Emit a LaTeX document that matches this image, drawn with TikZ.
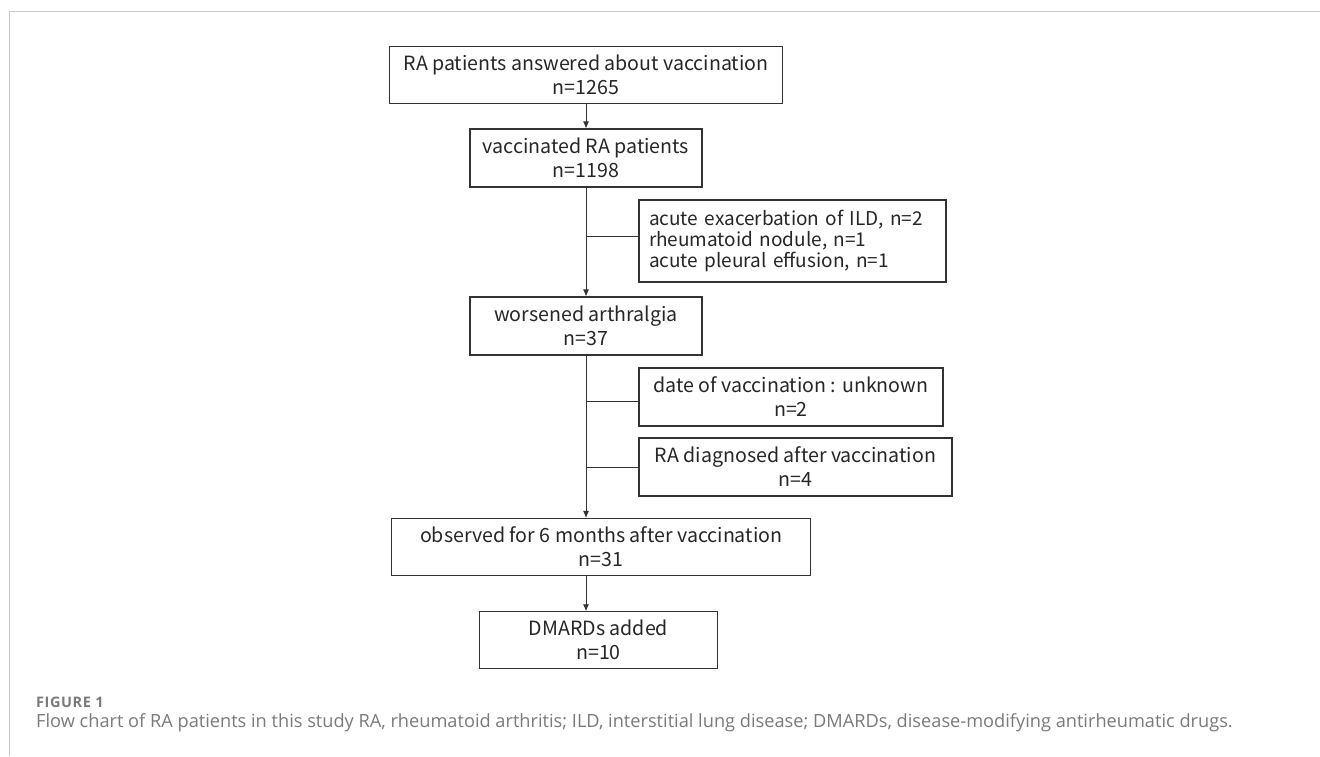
\documentclass[tikz,border=0pt]{standalone}
\usepackage{fontspec}
\setmainfont{Noto Sans CJK JP}
\newfontfamily\capfont{Open Sans}
\newfontfamily\caplabelfont[LetterSpace=4]{Open Sans}
\usetikzlibrary{arrows.meta}
\definecolor{boxline}{HTML}{333333}
\definecolor{frameline}{HTML}{C8C8C8}
\definecolor{captext}{HTML}{7A7A7A}
\tikzset{
	stepbox/.style={draw=boxline,line width=1.1pt,align=center,inner sep=0pt,text=black!85,font=\fontsize{19.6}{24}\selectfont},
	sidebox/.style={stepbox,align=left,inner xsep=10pt,font=\fontsize{19}{21}\selectfont},
	flow/.style={draw=boxline,line width=0.9pt},
	flowarrow/.style={flow,-{Latex[length=7pt,width=6pt]}}
}
\begin{document}
\begin{tikzpicture}[x=1pt,y=-1pt]
	\useasboundingbox (0,0) rectangle (1320,756);
	\draw[frameline,line width=1pt] (9,756) -- (9,11) -- (1320,11);
	\node[stepbox,minimum width=393pt,minimum height=57pt] (ans) at (586,75.3) {RA patients answered about vaccination\\n=1265};
	\node[stepbox,minimum width=232pt,minimum height=58pt] (vac) at (586,158) {vaccinated RA patients\\n=1198};
	\node[sidebox,text width=287pt,minimum height=82pt] (ild) at (792.5,241) {acute exacerbation of ILD, n=2\\rheumatoid nodule, n=1\\acute pleural effusion, n=1};
	\node[stepbox,minimum width=232pt,minimum height=58pt] (wor) at (586,326) {worsened arthralgia\\n=37};
	\node[stepbox,minimum width=304pt,minimum height=58pt] (unk) at (791,397) {date of vaccination : unknown\\n=2};
	\node[stepbox,minimum width=313pt,minimum height=58pt] (dia) at (795.5,467) {RA diagnosed after vaccination\\n=4};
	\node[stepbox,minimum width=419pt,minimum height=57pt] (obs) at (601.2,547) {observed for 6 months after vaccination\\n=31};
	\node[stepbox,minimum width=238pt,minimum height=57pt] (dma) at (598.5,640.3) {DMARDs added\\n=10};
	\coordinate (b1) at (586,236);
	\coordinate (b2) at (586,401);
	\coordinate (b3) at (586,467);
	\draw[flowarrow] (ans) -- (vac);
	\draw[flowarrow] (vac) -- (wor);
	\draw[flowarrow] (wor) -- (obs.north -| wor.south);
	\draw[flowarrow] (obs.south -| wor.south) -- (dma.north -| wor.south);
	\draw[flow] (b1) -- (b1 -| ild.west);
	\draw[flow] (b2) -- (b2 -| unk.west);
	\draw[flow] (b3) -- (b3 -| dia.west);
	\node[anchor=base west,inner sep=0pt,text=captext,font=\caplabelfont\bfseries\fontsize{14.5}{16}\selectfont] (figlabel) at (36,707) {FIGURE 1};
	\node[anchor=base west,inner sep=0pt,text=captext,font=\capfont\fontsize{18.2}{20}\selectfont] (figcaption) at (36,727) {Flow chart of RA patients in this study RA, rheumatoid arthritis; ILD, interstitial lung disease; DMARDs, disease-modifying antirheumatic drugs.};
\end{tikzpicture}
\end{document}
